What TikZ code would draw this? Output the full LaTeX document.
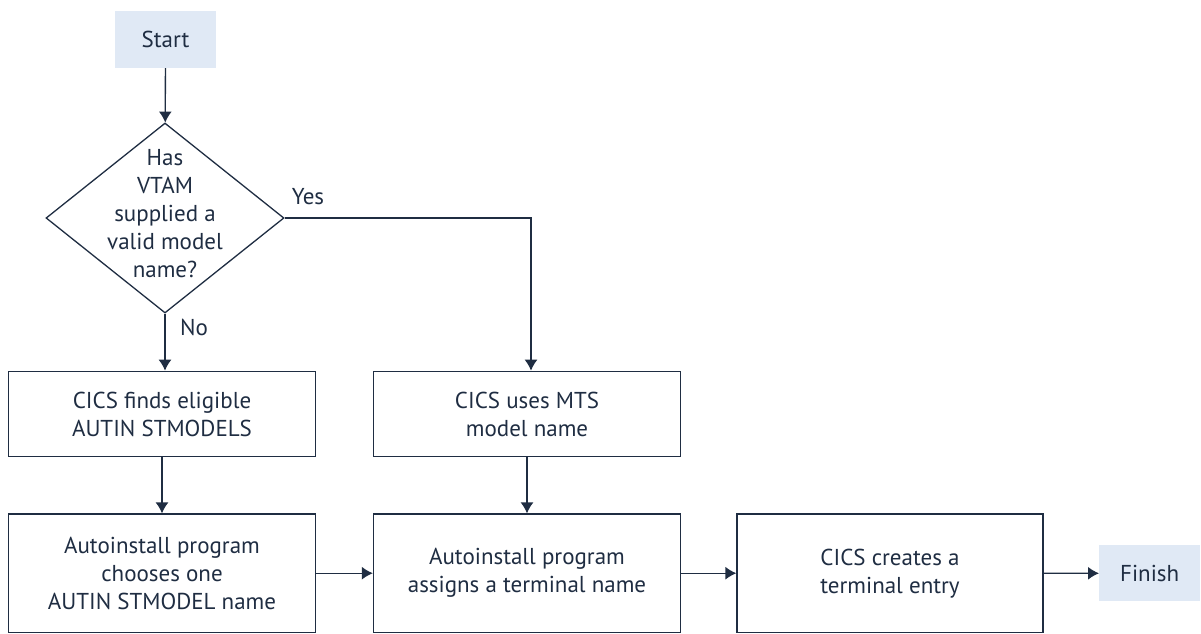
\documentclass[tikz,border=0pt]{standalone}
\usepackage{fontspec}
\setmainfont{PT Sans}
\usetikzlibrary{positioning, arrows.meta, shapes.geometric}
\definecolor{ink}{HTML}{1F2D42}
\definecolor{termfill}{HTML}{E0E9F5}
\tikzset{% 
	>={Latex[length = 11pt, width = 13pt]},
	flow/.style = {line width = 1.3pt, draw = ink},
	every edge/.append style = {flow},
	term/.style = {name = #1, rectangle, fill = termfill, minimum width = 101pt, minimum height = 57pt, inner sep = 0pt},
	proc/.style = {name = #1, rectangle, draw = ink, line width = 1.3pt, align = center, minimum width = 307pt, inner sep = 0pt},
	ask/.style = {name = #1, diamond, draw = ink, line width = 1.3pt, minimum width = 238pt, minimum height = 190pt, inner sep = 0pt}
}

\begin{document}
\begin{tikzpicture}[x = 1pt, y = -1pt, font = \fontsize{23}{28}\selectfont, text = ink]
		\useasboundingbox (0,0) rectangle (1201,633);
		\node [term = {start}] at (165.5,39.5) {Start};
		\node [ask = {vtam}, label = {[align = center, yshift = 4pt]center:Has\\VTAM\\supplied a\\valid model\\name?}] at (165,218) {};
		\node [proc = {finds}, minimum height = 85.4pt] at (162,414) {CICS finds eligible\\AUTIN STMODELS};
		\node [proc = {uses}, minimum height = 85.4pt] at (527,414) {CICS uses MTS\\model name};
		\node [proc = {choose}, minimum height = 118.3pt] at (162,573.2) {Autoinstall program\\chooses one\\AUTIN STMODEL name};
		\node [proc = {assign}, minimum height = 118.3pt] at (527,573.2) {Autoinstall program\\assigns a terminal name};
		\node [proc = {create}, minimum height = 118.3pt, minimum width = 306pt] at (890,573.2) {CICS creates a\\terminal entry};
		\node [term = {finish}, minimum height = 56pt] at (1149.7,573.3) {Finish};
		\node (yes) at (308,197) {Yes};
		\node (no) at (194,327) {No};
		\path [->] (start) edge (vtam);
		\path [->] (vtam.south) edge (vtam.south |- finds.north);
		\draw [->, flow] (vtam.east) -| ([xshift = 4pt]uses.north);
		\path [->] (finds.south) edge (finds.south |- choose.north);
		\path [->] (uses) edge (assign);
		\path [->] (choose) edge (assign);
		\path [->] (assign) edge (create);
		\path [->] (create) edge (finish);
		\end{tikzpicture}
\end{document}
